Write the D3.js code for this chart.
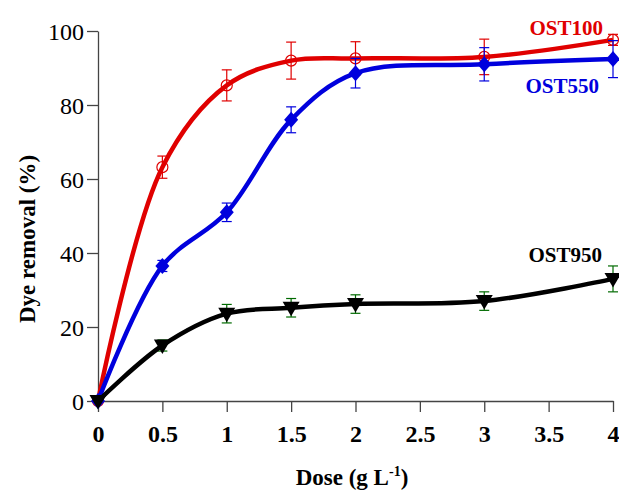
<!DOCTYPE html>
<html lang="en">
<head>
<meta charset="UTF-8">
<title>Dye removal vs dose</title>
<style>
    body { margin: 0; background: #fff; }
    svg text { font-family: "Liberation Serif", "Times New Roman", serif !important; }
    .axis path, .axis line { stroke: #444; stroke-width: 1.3px; }
</style>
</head>
<body>
<svg id="chart" width="619" height="490"></svg>
<script src="https://d3js.org/d3.v7.min.js"></script>
<script>
// Data
const dose = [0, 0.5, 1, 1.5, 2, 3, 4];
const ost100 = [0, 63.2, 85.3, 92, 92.6, 93, 97.6];
const ost100Err = [0, 3, 4.2, 5, 4.5, 4.8, 1.5];
const ost550 = [0, 36.5, 51, 76, 88.6, 91, 92.4];
const ost550Err = [0, 1.5, 2.5, 3.5, 4, 4.5, 5];
const ost950 = [0, 15, 23.6, 25.2, 26.2, 27, 33];
const ost950Err = [0, 1.5, 2.5, 2.5, 2.5, 2.5, 3.5];
const xTicks = [0, 0.5, 1, 1.5, 2, 2.5, 3, 3.5, 4];
const yTicks = [0, 20, 40, 60, 80, 100];

const serif = "'Liberation Serif', 'Times New Roman', serif";
const svg = d3.select("#chart");
const x = d3.scaleLinear().domain([0, 4]).range([98, 613]);
const y = d3.scaleLinear().domain([0, 100]).range([401, 31]);

// axes
svg.append("g").attr("class", "axis")
    .attr("transform", "translate(0,401)")
    .call(d3.axisBottom(x).tickValues(xTicks).tickFormat(d3.format("")).tickSize(11).tickSizeOuter(0))
    .attr("font-family", serif)
    .call(g => g.selectAll("text").attr("dy", 27).attr("font-size", 24).attr("font-weight", "bold")
        .attr("fill", "#000"));

svg.append("g").attr("class", "axis")
    .attr("transform", "translate(98,0)")
    .call(d3.axisLeft(y).tickValues(yTicks).tickSize(11).tickSizeOuter(0))
    .attr("font-family", serif)
    .call(g => g.selectAll("text").attr("x", -14).attr("dy", "0.34em").attr("font-size", 24)
        .attr("fill", "#000"));

// axis titles
const xt = svg.append("text").attr("x", 352).attr("y", 485).attr("text-anchor", "middle")
    .attr("font-size", 23).attr("font-weight", "bold");
xt.append("tspan").text("Dose (g L");
xt.append("tspan").attr("dy", -9).attr("font-size", 14).text("-1");
xt.append("tspan").attr("dy", 9).text(")");

svg.append("text").attr("transform", "translate(35,239) rotate(-90)")
    .attr("text-anchor", "middle").attr("font-size", 23).attr("font-weight", "bold")
    .text("Dye removal (%)");

const series = [
    { vals: ost100, err: ost100Err, color: "#e00000", errColor: "#e00000", marker: "circle",
      label: "OST100", lx: 603, ly: 35 },
    { vals: ost550, err: ost550Err, color: "#0000dd", errColor: "#0000dd", marker: "diamond",
      label: "OST550", lx: 599, ly: 93 },
    { vals: ost950, err: ost950Err, color: "#000000", errColor: "#006a00", marker: "triangle",
      label: "OST950", lx: 602, ly: 262 }
];

const line = d3.line().x(d => x(d[0])).y(d => y(d[1])).curve(d3.curveCatmullRom.alpha(0.5));

series.forEach(s => {
    const pts = dose.map((d, i) => [d, s.vals[i], s.err[i]]);
    const g = svg.append("g");

    // error bars
    const eb = g.selectAll(".eb").data(pts.filter(p => p[2] > 0)).enter().append("g")
        .attr("stroke", s.errColor).attr("stroke-width", 1.2);
    eb.append("line").attr("x1", d => x(d[0])).attr("x2", d => x(d[0]))
        .attr("y1", d => y(d[1] + d[2])).attr("y2", d => y(d[1] - d[2]));
    eb.append("line").attr("x1", d => x(d[0]) - 5).attr("x2", d => x(d[0]) + 5)
        .attr("y1", d => y(d[1] + d[2])).attr("y2", d => y(d[1] + d[2]));
    eb.append("line").attr("x1", d => x(d[0]) - 5).attr("x2", d => x(d[0]) + 5)
        .attr("y1", d => y(d[1] - d[2])).attr("y2", d => y(d[1] - d[2]));

    g.append("path").datum(pts).attr("d", line)
        .attr("fill", "none").attr("stroke", s.color).attr("stroke-width", 4.5);

    const m = g.selectAll(".m").data(pts).enter();
    if (s.marker === "circle") {
        m.append("circle").attr("cx", d => x(d[0])).attr("cy", d => y(d[1])).attr("r", 5.5)
            .attr("fill", "none").attr("stroke", s.color).attr("stroke-width", 1.2);
    } else if (s.marker === "diamond") {
        m.append("path").attr("transform", d => `translate(${x(d[0])},${y(d[1])})`)
            .attr("d", "M0,-8L7,0L0,8L-7,0Z").attr("fill", s.color);
    } else {
        m.append("path").attr("transform", d => `translate(${x(d[0])},${y(d[1])})`)
            .attr("d", "M-8.5,-6L8.5,-6L0,8.5Z").attr("fill", s.color);
    }

    svg.append("text").attr("x", s.lx).attr("y", s.ly).attr("text-anchor", "end")
        .attr("font-size", 21).attr("font-weight", "bold").attr("fill", s.color).text(s.label);
});
</script>
</body>
</html>
